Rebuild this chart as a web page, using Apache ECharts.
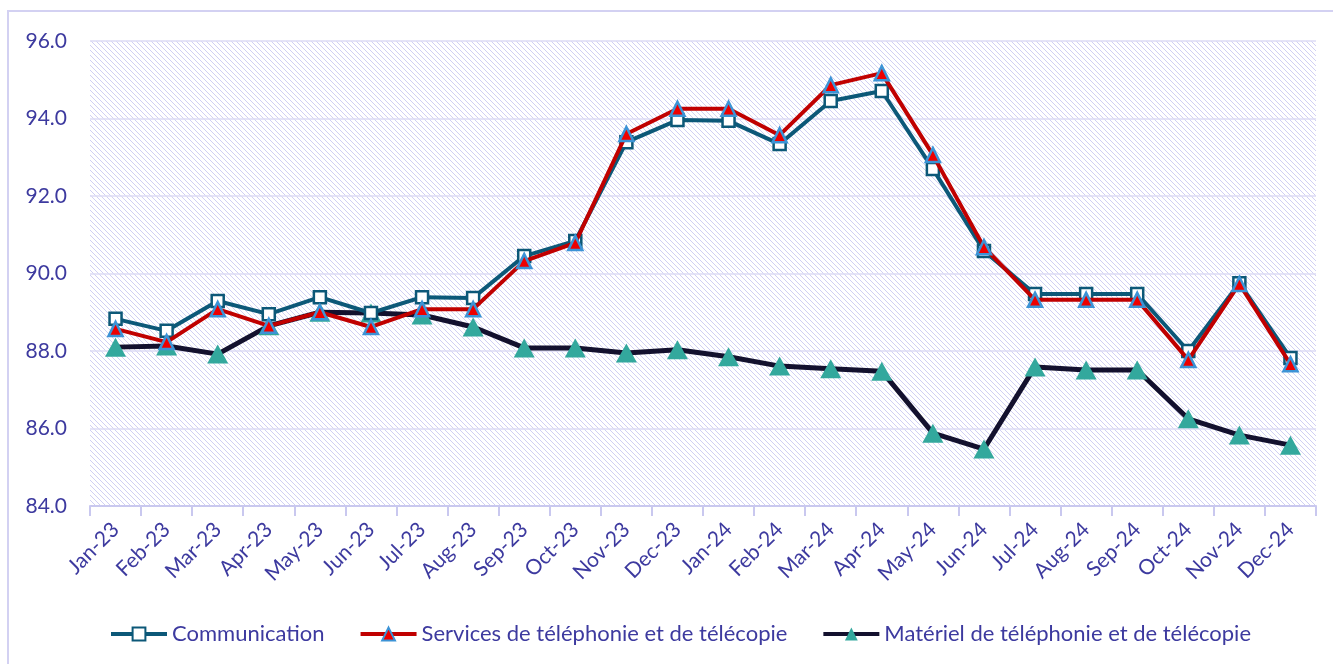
<!DOCTYPE html>
<html>
<head>
<meta charset="utf-8">
<script src="https://cdn.jsdelivr.net/npm/echarts@6/dist/echarts.min.js"></script>
<style>
html,body{margin:0;padding:0;background:#fff;}
#chart{width:1333px;height:664px;}
</style>
</head>
<body>
<div id="chart"></div>
<script>
const categories = ["Jan-23","Feb-23","Mar-23","Apr-23","May-23","Jun-23","Jul-23","Aug-23","Sep-23","Oct-23","Nov-23","Dec-23",
                    "Jan-24","Feb-24","Mar-24","Apr-24","May-24","Jun-24","Jul-24","Aug-24","Sep-24","Oct-24","Nov-24","Dec-24"];
const communication = [88.83,88.52,89.29,88.95,89.39,88.98,89.39,89.37,90.45,90.84,93.39,93.96,
                       93.94,93.34,94.45,94.71,92.70,90.58,89.47,89.47,89.47,88.00,89.75,87.82];
const services = [88.57,88.23,89.08,88.65,89.00,88.62,89.08,89.08,90.32,90.79,93.60,94.25,
                  94.25,93.57,94.86,95.17,93.06,90.68,89.32,89.32,89.32,87.77,89.73,87.66];
const materiel = [88.10,88.13,87.92,88.65,89.00,88.98,88.93,88.62,88.08,88.08,87.95,88.03,
                  87.85,87.61,87.54,87.48,85.88,85.47,87.59,87.51,87.51,86.25,85.83,85.57];
const seriesNames = ["Communication","Services de téléphonie et de télécopie","Matériel de téléphonie et de télécopie"];
const yTicks = {min:84, max:96, interval:2};

const TEXT = '#3d3a9f';
const FONT = 'Lato';

function hatch(){
  const c = document.createElement('canvas');
  c.width = 5; c.height = 5;
  const g = c.getContext('2d');
  g.fillStyle = '#ffffff';
  g.fillRect(0,0,5,5);
  g.fillStyle = '#d0cff3';
  for(let i=0;i<5;i++){ g.fillRect(i,i,1,1); }
  return c;
}

const chart = echarts.init(document.getElementById('chart'), null, {renderer:'canvas'});
chart.setOption({
  backgroundColor:'#ffffff',
  animation:false,
  graphic:[{
    type:'rect', shape:{x:8,y:11,width:1340,height:670},
    style:{fill:'none', stroke:'#d3d1f2', lineWidth:2}, silent:true, z:-1
  }],
  grid:{left:90,right:17,top:41,bottom:158,show:true,borderWidth:0,
        backgroundColor:{image:hatch(),repeat:'repeat'}},
  legend:{
    bottom:14, left:104, itemWidth:56, itemHeight:16, itemGap:34,
    textStyle:{color:TEXT,fontFamily:FONT,fontSize:22},
    lineStyle:{width:4},
    data:seriesNames
  },
  xAxis:{
    type:'category', data:categories, boundaryGap:true,
    axisLine:{lineStyle:{color:'#c9c8ef',width:2}},
    axisTick:{show:true,length:10,lineStyle:{color:'#c9c8ef',width:2}},
    axisLabel:{rotate:45,margin:20,color:TEXT,fontFamily:FONT,fontSize:21,interval:0}
  },
  yAxis:{
    type:'value', min:yTicks.min, max:yTicks.max, interval:yTicks.interval,
    axisLine:{show:false}, axisTick:{show:false},
    splitLine:{lineStyle:{color:'#dcdbf4',width:1.5}},
    axisLabel:{margin:23,color:TEXT,fontFamily:FONT,fontSize:21,
               formatter:v=>v.toFixed(1)}
  },
  series:[
    {name:seriesNames[0], type:'line', data:communication, z:3,
     lineStyle:{color:'#0c5878',width:4}, itemStyle:{color:'#ffffff',borderColor:'#0c5878',borderWidth:2.5},
     symbol:'rect', symbolSize:12, showAllSymbol:true},
    {name:seriesNames[1], type:'line', data:services, z:4,
     lineStyle:{color:'#c00000',width:4}, itemStyle:{color:'#ee0000',borderColor:'#3c93d6',borderWidth:2.5},
     symbol:'triangle', symbolSize:14, showAllSymbol:true},
    {name:seriesNames[2], type:'line', data:materiel, z:2,
     lineStyle:{color:'#13112e',width:5}, itemStyle:{color:'#33a89d',borderWidth:0},
     symbol:'triangle', symbolSize:[21,19], showAllSymbol:true}
  ]
});
</script>
</body>
</html>
